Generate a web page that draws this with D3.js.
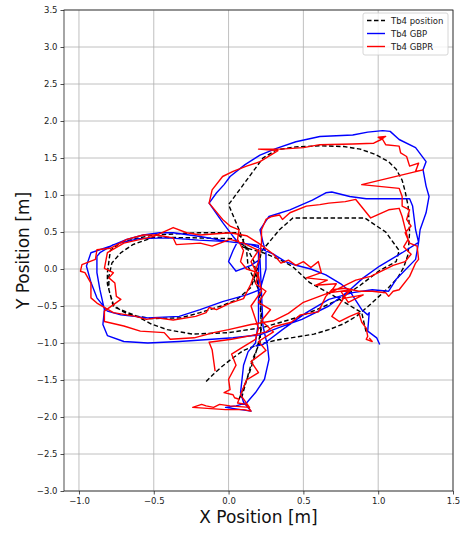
<!DOCTYPE html>
<html><head><meta charset="utf-8">
<script src="https://cdn.jsdelivr.net/npm/d3@7"></script>
<style>body{margin:0;background:#fff}svg{display:block}</style>
</head><body>
<svg id="c" width="460" height="533"></svg>
<script>
const xTicks = [-1.0,-0.5,0.0,0.5,1.0,1.5];
const yTicks = [-3.0,-2.5,-2.0,-1.5,-1.0,-0.5,0.0,0.5,1.0,1.5,2.0,2.5,3.0,3.5];
const seriesNames = ["Tb4 position","Tb4 GBP","Tb4 GBPR"];

const tb4Position = [
[-0.15,-1.52],[-0.1,-1.42],[-0.04,-1.31],[0.03,-1.2],[0.1,-1.1],[0.2,-1.02],[0.32,-0.96],[0.45,-0.92],[0.57,-0.88],[0.67,-0.82],[0.77,-0.74],[0.86,-0.63],[0.93,-0.51],[1.0,-0.38],[1.07,-0.25],[1.13,-0.12],[1.17,0.02],[1.2,0.2],[1.21,0.5],[1.2,0.85],[1.18,1.05],[1.16,1.2],[1.12,1.35],[1.07,1.45],[0.98,1.55],[0.88,1.62],[0.77,1.655],[0.61,1.665],[0.45,1.65],[0.32,1.61],[0.23,1.5],[0.0,0.87],[0.07,0.53],[0.12,0.26],[0.13,0.04],[0.21,-0.32],[0.22,-0.64],[0.21,-0.99],[0.16,-1.22],[0.09,-1.72],[0.07,-1.76],[0.14,-1.40],[0.19,-1.08],[0.22,-0.8],[0.21,-0.4],[0.17,0.1],[0.12,0.3],[0.02,0.41],[-0.2,0.42],[-0.5,0.43],[-0.64,0.33],[-0.72,0.22],[-0.78,0.08],[-0.80,-0.1],[-0.80,-0.28],[-0.77,-0.48],[-0.72,-0.56],[-0.66,-0.62],[-0.52,-0.67],[-0.32,-0.66],[-0.19,-0.59],[-0.05,-0.5],[0.05,-0.42],[0.15,-0.25],[0.2,0.05],[0.22,0.24],[0.34,0.53],[0.43,0.69],[0.91,0.69],[1.05,0.5],[1.14,0.25],[1.12,0.1],[1.01,-0.02],[0.88,-0.22],[0.74,-0.41],[0.6,-0.54],[0.45,-0.66],[0.23,-0.79],[0.0,-0.86],[-0.24,-0.88],[-0.41,-0.82],[-0.52,-0.74],[-0.61,-0.64],[-0.77,-0.51],[-0.81,-0.2],[-0.81,-0.05],[-0.79,0.25],[-0.72,0.36],[-0.6,0.42],[-0.5,0.46],[-0.2,0.49],[0.05,0.49],[0.1,0.4],[0.09,0.3],[0.23,0.22],[0.34,0.13],[0.43,0.03],[0.54,-0.18],[0.7,-0.36],[0.89,-0.59],[0.92,-0.86]
];

const tb4GBP = [
[0.18,-1.04],[0.23,-1.02],[0.36,-0.82],[0.52,-0.59],[0.67,-0.41],[0.83,-0.32],[0.96,-0.28],[1.07,-0.3],[1.12,-0.14],[1.25,0.13],[1.27,0.36],[1.28,0.53],[1.32,0.76],[1.34,0.98],[1.32,1.12],[1.30,1.34],[1.32,1.45],[1.25,1.64],[1.14,1.75],[1.08,1.86],[1.03,1.87],[0.93,1.85],[0.83,1.81],[0.61,1.79],[0.45,1.72],[0.32,1.63],[0.21,1.54],[0.11,1.41],[0.01,1.25],[-0.03,1.14],[-0.08,1.03],[-0.13,0.89],[-0.04,0.63],[0.03,0.44],[0.06,0.37],[0.03,0.25],[0.0,0.1],[0.05,-0.03],[0.15,0.05],[0.21,0.13],[0.22,-0.32],[0.23,-0.77],[0.26,-1.04],[0.27,-1.22],[0.24,-1.49],[0.18,-1.67],[0.12,-1.81],[0.05,-1.85],[-0.02,-1.87],[0.15,-1.92],[0.1,-1.8],[0.08,-1.67],[0.09,-1.49],[0.1,-1.3],[0.13,-1.12],[0.18,-1.0],[0.2,-0.7],[0.2,-0.4],[0.2,0.1],[0.2,0.32],[0.0,0.37],[-0.19,0.44],[-0.37,0.49],[-0.46,0.49],[-0.57,0.46],[-0.68,0.40],[-0.79,0.31],[-0.92,0.22],[-0.95,0.04],[-0.92,-0.18],[-0.88,-0.39],[-0.81,-0.57],[-0.72,-0.62],[-0.54,-0.66],[-0.33,-0.64],[-0.19,-0.55],[-0.04,-0.44],[0.12,-0.35],[0.21,-0.28],[0.25,0.0],[0.25,0.22],[0.23,0.36],[0.21,0.53],[0.27,0.71],[0.41,0.80],[0.56,0.93],[0.65,1.03],[0.69,1.04],[0.81,0.98],[0.92,0.95],[1.21,0.95],[1.23,0.85],[1.25,0.53],[1.27,0.36],[1.16,0.22],[1.01,0.04],[0.9,-0.12],[0.8,-0.3],[0.67,-0.5],[0.49,-0.68],[0.34,-0.79],[0.21,-0.89],[0.03,-0.93],[-0.11,-0.95],[-0.33,-0.98],[-0.54,-1.0],[-0.70,-0.98],[-0.81,-0.9],[-0.84,-0.75],[-0.83,-0.55],[-0.86,-0.28],[-0.88,-0.05],[-0.88,0.17],[-0.86,0.22],[-0.77,0.33],[-0.6,0.41],[-0.4,0.42],[-0.2,0.39],[0.0,0.37],[0.15,0.33],[0.3,0.2],[0.38,0.1],[0.45,0.05],[0.55,0.0],[0.65,-0.08],[0.75,-0.2],[0.81,-0.30],[0.89,-0.55],[0.93,-0.62],[0.94,-0.59],[0.93,-0.84],[0.99,-0.93],[1.01,-1.02]
];

const tb4GBPR = [
[-0.09,-1.38],[-0.11,-1.09],[-0.13,-0.99],[0.02,-0.95],[0.15,-0.9],[0.25,-0.85],[0.3,-0.78],[0.42,-0.72],[0.48,-0.62],[0.6,-0.58],[0.65,-0.37],[0.69,-0.28],[0.78,-0.26],[0.87,-0.30],[0.96,-0.30],[1.05,-0.32],[1.07,-0.37],[1.10,-0.30],[1.14,-0.28],[1.21,-0.10],[1.25,0.08],[1.27,0.13],[1.26,0.31],[1.21,0.35],[1.18,0.49],[1.22,0.58],[1.19,0.67],[1.21,0.80],[1.16,0.85],[1.16,0.98],[1.14,1.09],[0.89,1.14],[1.30,1.34],[1.25,1.32],[1.27,1.43],[1.21,1.39],[1.19,1.52],[1.15,1.57],[1.14,1.66],[1.05,1.68],[1.03,1.75],[1.0,1.78],[1.05,1.79],[1.02,1.75],[0.97,1.70],[0.83,1.69],[0.61,1.68],[0.5,1.64],[0.35,1.62],[0.2,1.62],[0.33,1.6],[0.21,1.45],[0.12,1.39],[0.03,1.32],[-0.04,1.25],[-0.11,1.07],[-0.13,0.89],[-0.04,0.67],[0.01,0.58],[0.07,0.53],[0.06,0.40],[0.1,0.25],[0.08,0.1],[0.12,0.0],[0.2,-0.05],[0.18,-0.2],[0.25,-0.3],[0.2,-0.45],[0.28,-0.55],[0.22,-0.7],[0.3,-0.85],[0.2,-0.98],[0.25,-1.1],[0.15,-1.25],[0.2,-1.4],[0.12,-1.5],[0.08,-1.7],[0.14,-1.87],[0.01,-1.85],[-0.06,-1.83],[-0.10,-1.87],[-0.15,-1.85],[-0.18,-1.83],[-0.24,-1.87],[-0.02,-1.90],[0.10,-1.90],[0.15,-1.92],[0.12,-1.83],[0.06,-1.81],[0.07,-1.76],[0.04,-1.74],[0.03,-1.70],[-0.03,-1.67],[0.01,-1.63],[0.0,-1.49],[0.05,-1.3],[0.02,-1.15],[0.1,-1.05],[0.18,-0.95],[0.2,-0.8],[0.15,-0.5],[0.22,-0.3],[0.2,-0.1],[0.15,0.1],[0.2,0.25],[0.1,0.35],[0.01,0.40],[-0.11,0.31],[-0.19,0.35],[-0.35,0.33],[-0.37,0.42],[-0.48,0.46],[-0.57,0.46],[-0.68,0.40],[-0.79,0.28],[-0.88,0.26],[-0.89,0.13],[-0.98,0.06],[-0.99,-0.03],[-0.96,-0.05],[-0.92,-0.19],[-0.92,-0.39],[-0.88,-0.46],[-0.77,-0.59],[-0.62,-0.64],[-0.55,-0.68],[-0.48,-0.66],[-0.37,-0.69],[-0.22,-0.64],[-0.15,-0.59],[-0.13,-0.52],[-0.08,-0.55],[0.01,-0.46],[0.1,-0.4],[0.15,-0.2],[0.2,0.1],[0.22,0.35],[0.22,0.53],[0.25,0.67],[0.29,0.71],[0.34,0.73],[0.36,0.67],[0.41,0.76],[0.52,0.85],[0.61,0.87],[0.67,0.89],[0.78,0.91],[0.85,0.94],[0.95,0.69],[1.07,0.80],[1.14,0.82],[1.16,0.71],[1.18,0.55],[1.2,0.4],[1.17,0.3],[1.22,0.2],[1.18,0.1],[1.1,0.05],[0.95,-0.1],[0.85,-0.15],[0.7,-0.3],[0.5,-0.45],[0.4,-0.6],[0.3,-0.7],[0.15,-0.75],[0.0,-0.82],[-0.1,-0.86],[-0.23,-0.93],[-0.39,-0.95],[-0.43,-0.86],[-0.59,-0.84],[-0.70,-0.77],[-0.83,-0.71],[-0.83,-0.57],[-0.72,-0.41],[-0.75,-0.37],[-0.76,-0.19],[-0.80,-0.12],[-0.77,-0.05],[-0.83,0.01],[-0.81,0.22],[-0.7,0.35],[-0.5,0.44],[-0.37,0.56],[-0.28,0.49],[-0.19,0.46],[0.01,0.49],[0.12,0.45],[0.2,0.35],[0.3,0.2],[0.35,0.08],[0.4,0.12],[0.45,0.05],[0.5,0.1],[0.55,0.02],[0.6,0.1],[0.62,-0.05],[0.52,-0.12],[0.66,-0.15],[0.58,-0.22],[0.72,-0.2],[0.68,-0.32],[0.82,-0.28],[0.76,-0.4],[0.9,-0.35],[0.8,-0.45],[0.75,-0.3],[0.8,-0.3],[0.69,-0.64],[0.74,-0.71],[0.81,-0.64],[0.87,-0.59],[0.89,-0.72],[0.92,-0.80],[0.93,-0.91],[0.92,-0.95],[0.96,-0.98],[0.94,-0.93]
];

const svg = d3.select("#c");
const L = 64, R = 453, T = 10, B = 491;
const x = d3.scaleLinear().domain([-1.1, 1.5]).range([L, R]);
const y = d3.scaleLinear().domain([-3.0, 3.5]).range([B, T]);
const font = "DejaVu Sans, sans-serif";

const g = svg.append("g");
g.selectAll(".gx").data(xTicks).enter().append("line")
  .attr("x1", d => x(d)).attr("x2", d => x(d)).attr("y1", T).attr("y2", B)
  .attr("stroke", "#b0b0b0").attr("stroke-width", 0.8);
g.selectAll(".gy").data(yTicks).enter().append("line")
  .attr("y1", d => y(d)).attr("y2", d => y(d)).attr("x1", L).attr("x2", R)
  .attr("stroke", "#b0b0b0").attr("stroke-width", 0.8);

const fmt = d => d3.format(".1f")(d).replace("-", "\u2212");
const xAxis = svg.append("g").attr("transform", `translate(0,${B})`)
  .call(d3.axisBottom(x).tickValues(xTicks).tickFormat(fmt).tickSize(3.5).tickPadding(3));
const yAxis = svg.append("g").attr("transform", `translate(${L},0)`)
  .call(d3.axisLeft(y).tickValues(yTicks).tickFormat(fmt).tickSize(3.5).tickPadding(3));
[xAxis, yAxis].forEach(a => {
  a.select(".domain").remove();
  a.selectAll("text").attr("font-family", font).attr("font-size", 8.5).attr("fill", "#222");
  a.selectAll("line").attr("stroke", "#222").attr("stroke-width", 0.8);
});

svg.append("clipPath").attr("id", "clp").append("rect")
  .attr("x", L).attr("y", T).attr("width", R - L).attr("height", B - T);

const line = d3.line().x(d => x(d[0])).y(d => y(d[1]));
const plot = svg.append("g").attr("clip-path", "url(#clp)");
plot.append("path").datum(tb4Position).attr("d", line).attr("fill", "none")
  .attr("stroke", "#000").attr("stroke-width", 1.4).attr("stroke-dasharray", "4.5,2.5");
plot.append("path").datum(tb4GBP).attr("d", line).attr("fill", "none")
  .attr("stroke", "#0000ff").attr("stroke-width", 1.4).attr("stroke-linejoin", "round");
plot.append("path").datum(tb4GBPR).attr("d", line).attr("fill", "none")
  .attr("stroke", "#ff0000").attr("stroke-width", 1.4).attr("stroke-linejoin", "round");

svg.append("rect").attr("x", L).attr("y", T).attr("width", R - L).attr("height", B - T)
  .attr("fill", "none").attr("stroke", "#222").attr("stroke-width", 0.8);

svg.append("text").attr("x", (L + R) / 2).attr("y", 523).attr("text-anchor", "middle")
  .attr("font-family", font).attr("font-size", 17).attr("fill", "#111").text("X Position [m]");
svg.append("text").attr("transform", `translate(29,${(T + B) / 2}) rotate(-90)`)
  .attr("text-anchor", "middle").attr("font-family", font).attr("font-size", 17)
  .attr("fill", "#111").text("Y Position [m]");

const lg = svg.append("g");
lg.append("rect").attr("x", 363).attr("y", 13).attr("width", 85).attr("height", 42)
  .attr("rx", 2).attr("fill", "#fff").attr("fill-opacity", 0.8).attr("stroke", "#ccc").attr("stroke-width", 0.8);
const styles = [
  {c: "#000", dash: "4.5,2.5"}, {c: "#0000ff", dash: null}, {c: "#ff0000", dash: null}
];
seriesNames.forEach((n, i) => {
  const yy = 20.5 + i * 13;
  const ln = lg.append("line").attr("x1", 367).attr("x2", 385).attr("y1", yy).attr("y2", yy)
    .attr("stroke", styles[i].c).attr("stroke-width", 1.4);
  if (styles[i].dash) ln.attr("stroke-dasharray", styles[i].dash);
  lg.append("text").attr("x", 391).attr("y", yy + 3).attr("font-family", font)
    .attr("font-size", 8.5).attr("fill", "#222").text(n);
});
</script>
</body></html>
